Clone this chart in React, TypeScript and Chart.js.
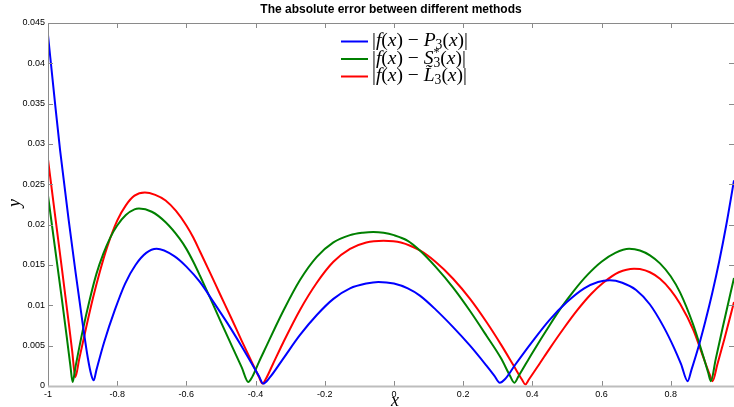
import React, { useEffect, useRef } from 'react';
import { Chart, registerables } from 'chart.js';

Chart.register(...registerables);

const titleText = 'The absolute error between different methods';
const xAxisLabel = 'x';
const yAxisLabel = 'y';

const xTickValues = [-1, -0.8, -0.6, -0.4, -0.2, 0, 0.2, 0.4, 0.6, 0.8];
const xTickLabels = ['-1', '-0.8', '-0.6', '-0.4', '-0.2', '0', '0.2', '0.4', '0.6', '0.8'];
const yTickValues = [0, 0.005, 0.01, 0.015, 0.02, 0.025, 0.03, 0.035, 0.04, 0.045];
const yTickLabels = ['0', '0.005', '0.01', '0.015', '0.02', '0.025', '0.03', '0.035', '0.04', '0.045'];

const seriesLabels = ['|f(x) − P₃(x)|', '|f(x) − S*₃(x)|', '|f(x) − L̃₃(x)|'];

// |f(x) - P3(x)|
const blueX = [-1.0, -0.98, -0.965, -0.94, -0.92, -0.90, -0.885, -0.875, -0.868, -0.86, -0.838, -0.807, -0.777, -0.747, -0.716, -0.686, -0.635, -0.60, -0.561, -0.52, -0.48, -0.44, -0.41, -0.39, -0.378, -0.36, -0.32, -0.272, -0.223, -0.175, -0.127, -0.08, -0.045, 0.0, 0.04, 0.075, 0.12, 0.171, 0.22, 0.268, 0.29, 0.306, 0.32, 0.35, 0.40, 0.45, 0.50, 0.55, 0.59, 0.624, 0.66, 0.70, 0.74, 0.78, 0.81, 0.83, 0.849, 0.86, 0.88, 0.90, 0.92, 0.94, 0.96, 0.983];
const blueY = [0.0435, 0.0352, 0.0292, 0.0205, 0.0140, 0.0078, 0.0035, 0.0014, 0.0007, 0.0020, 0.0054, 0.0094, 0.0127, 0.0150, 0.0165, 0.0170, 0.0161, 0.0148, 0.0129, 0.0103, 0.0077, 0.0049, 0.0027, 0.0012, 0.0003, 0.0010, 0.0034, 0.0063, 0.0088, 0.0108, 0.0121, 0.0127, 0.0129, 0.0127, 0.0121, 0.0112, 0.0095, 0.0073, 0.0050, 0.0025, 0.0013, 0.0004, 0.0008, 0.0026, 0.0055, 0.0082, 0.0104, 0.0121, 0.0129, 0.0131, 0.0128, 0.0119, 0.0101, 0.0073, 0.0047, 0.0027, 0.0006, 0.0020, 0.0048, 0.0080, 0.0115, 0.0154, 0.0198, 0.0255];

// |f(x) - S*3(x)|
const greenX = [-1.0, -0.98, -0.96, -0.945, -0.935, -0.929, -0.92, -0.90, -0.88, -0.86, -0.84, -0.82, -0.80, -0.775, -0.75, -0.737, -0.70, -0.66, -0.62, -0.60, -0.58, -0.561, -0.53, -0.503, -0.47, -0.44, -0.421, -0.41, -0.39, -0.368, -0.345, -0.32, -0.272, -0.223, -0.175, -0.127, -0.09, -0.06, -0.03, 0.0, 0.04, 0.075, 0.12, 0.171, 0.22, 0.268, 0.31, 0.335, 0.348, 0.36, 0.40, 0.451, 0.485, 0.52, 0.56, 0.60, 0.64, 0.68, 0.711, 0.74, 0.769, 0.80, 0.827, 0.865, 0.894, 0.908, 0.916, 0.93, 0.95, 0.983];
const greenY = [0.0236, 0.0172, 0.0108, 0.0058, 0.0024, 0.0005, 0.0025, 0.0068, 0.0106, 0.0139, 0.0164, 0.0184, 0.0199, 0.0212, 0.0219, 0.0220, 0.0216, 0.0203, 0.0183, 0.0170, 0.0154, 0.0137, 0.0108, 0.0082, 0.0051, 0.0023, 0.0005, 0.0011, 0.0030, 0.0050, 0.0071, 0.0093, 0.0131, 0.0160, 0.0178, 0.0187, 0.0190, 0.0191, 0.0190, 0.0187, 0.0180, 0.0168, 0.0148, 0.0122, 0.0093, 0.0062, 0.0034, 0.0013, 0.0004, 0.0012, 0.0041, 0.0076, 0.0098, 0.0118, 0.0138, 0.0154, 0.0165, 0.0170, 0.0168, 0.0162, 0.0152, 0.0136, 0.0116, 0.0076, 0.0037, 0.0017, 0.0006, 0.0033, 0.0072, 0.0134];

// |f(x) - L~3(x)|
const redX = [-1.0, -0.98, -0.96, -0.94, -0.93, -0.921, -0.91, -0.89, -0.87, -0.85, -0.83, -0.80, -0.775, -0.75, -0.72, -0.69, -0.66, -0.63, -0.60, -0.58, -0.561, -0.53, -0.503, -0.47, -0.44, -0.41, -0.39, -0.38, -0.37, -0.35, -0.32, -0.272, -0.223, -0.175, -0.127, -0.08, -0.03, 0.02, 0.075, 0.12, 0.171, 0.22, 0.268, 0.31, 0.345, 0.37, 0.38, 0.39, 0.42, 0.451, 0.49, 0.53, 0.57, 0.605, 0.65, 0.694, 0.711, 0.74, 0.769, 0.80, 0.827, 0.865, 0.894, 0.912, 0.921, 0.935, 0.955, 0.983];
const redY = [0.0281, 0.0213, 0.0146, 0.0078, 0.0043, 0.0011, 0.0033, 0.0072, 0.0109, 0.0142, 0.0171, 0.0205, 0.0224, 0.0236, 0.0240, 0.0237, 0.0230, 0.0217, 0.0199, 0.0184, 0.0167, 0.0139, 0.0114, 0.0084, 0.0056, 0.0029, 0.0011, 0.0003, 0.0009, 0.0027, 0.0054, 0.0094, 0.0128, 0.0154, 0.0170, 0.0178, 0.0180, 0.0178, 0.0168, 0.0154, 0.0133, 0.0108, 0.0079, 0.0051, 0.0026, 0.0008, 0.0002, 0.0008, 0.0027, 0.0047, 0.0071, 0.0094, 0.0114, 0.0128, 0.0141, 0.01455, 0.0145, 0.0141, 0.0133, 0.0119, 0.0102, 0.0070, 0.0036, 0.0015, 0.0006, 0.0027, 0.0058, 0.0104];

const toPoints = (xs: number[], ys: number[]) => xs.map((x, i) => ({ x, y: ys[i] }));

const SERIF = '"Liberation Serif", "DejaVu Serif", serif';
const SANS = '"Liberation Sans", Arial, sans-serif';
const SUBS = '₀₁₂₃₄₅₆₇₈₉';

function drawMath(ctx: CanvasRenderingContext2D, s: string, x0: number, y: number, size: number) {
  const chars = Array.from(s);
  let x = x0;
  ctx.textBaseline = 'middle';
  ctx.textAlign = 'left';
  ctx.fillStyle = '#000';
  let i = 0;
  while (i < chars.length) {
    let c = chars[i];
    if (chars[i + 1] === '\u0303') {
      c += '\u0303';
      i++;
    }
    const sub = SUBS.indexOf(c);
    if (c === '*') {
      ctx.font = `${size * 0.62}px ${SERIF}`;
      ctx.fillText('*', x, y - size * 0.3);
      const w1 = ctx.measureText('*').width;
      let w2 = 0;
      const nextSub = SUBS.indexOf(chars[i + 1] || '');
      if (nextSub >= 0) {
        ctx.font = `${size * 0.7}px ${SERIF}`;
        ctx.fillText(String(nextSub), x, y + size * 0.25);
        w2 = ctx.measureText(String(nextSub)).width;
        i++;
      }
      x += Math.max(w1, w2);
    } else if (sub >= 0) {
      ctx.font = `${size * 0.7}px ${SERIF}`;
      ctx.fillText(String(sub), x, y + size * 0.25);
      x += ctx.measureText(String(sub)).width;
    } else {
      const italic = /[A-Za-z]/.test(c[0]);
      ctx.font = `${italic ? 'italic ' : ''}${size}px ${SERIF}`;
      ctx.fillText(c, x, y);
      x += ctx.measureText(c).width;
    }
    i++;
  }
}

const decorPlugin = {
  id: 'decor',
  afterDatasetsDraw(chart: any) {
    const { ctx, chartArea: a, scales } = chart;
    ctx.save();
    const L = 5;
    ctx.strokeStyle = '#8a8a8a';
    ctx.lineWidth = 1;
    ctx.beginPath();
    for (const v of xTickValues) {
      const px = Math.round(scales.x.getPixelForValue(v)) + 0.5;
      ctx.moveTo(px, a.bottom);
      ctx.lineTo(px, a.bottom - L);
      ctx.moveTo(px, a.top);
      ctx.lineTo(px, a.top + L);
    }
    for (const v of yTickValues) {
      const py = Math.round(scales.y.getPixelForValue(v)) + 0.5;
      ctx.moveTo(a.left, py);
      ctx.lineTo(a.left + L, py);
      ctx.moveTo(a.right, py);
      ctx.lineTo(a.right - L, py);
    }
    ctx.stroke();
    ctx.beginPath();
    ctx.moveTo(a.left + 0.5, a.bottom);
    ctx.lineTo(a.left + 0.5, a.top + 0.5);
    ctx.lineTo(a.right, a.top + 0.5);
    ctx.stroke();
    ctx.strokeStyle = '#bdbdbd';
    ctx.lineWidth = 2;
    ctx.beginPath();
    ctx.moveTo(a.left, a.bottom + 0.5);
    ctx.lineTo(a.right, a.bottom + 0.5);
    ctx.stroke();
    ctx.restore();
  },
  afterDraw(chart: any) {
    const { ctx, chartArea: a } = chart;
    ctx.save();
    ctx.fillStyle = '#000';
    ctx.font = `bold 12px ${SANS}`;
    ctx.textAlign = 'center';
    ctx.textBaseline = 'middle';
    ctx.fillText(titleText, (a.left + a.right) / 2, 10);
    ctx.font = `italic 18px ${SERIF}`;
    ctx.fillText(xAxisLabel, (a.left + a.right) / 2 + 4, 401);
    ctx.save();
    ctx.translate(15, 203);
    ctx.rotate(-Math.PI / 2);
    ctx.fillText(yAxisLabel, 0, 0);
    ctx.restore();
    const rows = [41, 58.5, 76];
    chart.data.datasets.forEach((ds: any, i: number) => {
      const y = rows[i];
      ctx.strokeStyle = ds.borderColor;
      ctx.lineWidth = 2;
      ctx.beginPath();
      ctx.moveTo(341, y + 0.5);
      ctx.lineTo(368, y + 0.5);
      ctx.stroke();
      drawMath(ctx, ds.label, 372, y, 19.5);
    });
    ctx.restore();
  },
};

export default function App() {
  const ref = useRef<HTMLCanvasElement | null>(null);
  useEffect(() => {
    document.body.style.margin = '0';
    const canvas = ref.current;
    if (!canvas) return;
    const mk = (label: string, xs: number[], ys: number[], color: string) => ({
      label,
      data: toPoints(xs, ys),
      borderColor: color,
      backgroundColor: color,
      borderWidth: 2,
      pointRadius: 0,
      fill: false,
      cubicInterpolationMode: 'monotone' as const,
    });
    const chart = new Chart(canvas, {
      type: 'line',
      data: {
        datasets: [
          mk(seriesLabels[0], blueX, blueY, '#0000ff'),
          mk(seriesLabels[1], greenX, greenY, '#008000'),
          mk(seriesLabels[2], redX, redY, '#ff0000'),
        ],
      },
      options: {
        responsive: false,
        animation: false,
        devicePixelRatio: 1,
        layout: { padding: { top: 23, left: 0, right: 0, bottom: 0 } },
        plugins: {
          legend: { display: false },
          title: { display: false },
          tooltip: { enabled: false },
        },
        scales: {
          x: {
            type: 'linear',
            min: -1,
            max: 0.983,
            grid: { display: false, drawTicks: false },
            border: { display: false },
            afterBuildTicks: (s: any) => {
              s.ticks = xTickValues.map((v) => ({ value: v }));
            },
            afterFit: (s: any) => {
              s.height = 21;
            },
            ticks: {
              autoSkip: false,
              maxRotation: 0,
              padding: 3,
              color: '#000',
              font: { family: SANS, size: 9 },
              callback: (_v: any, i: number) => xTickLabels[i],
            },
          },
          y: {
            type: 'linear',
            min: 0,
            max: 0.045,
            grid: { display: false, drawTicks: false },
            border: { display: false },
            afterBuildTicks: (s: any) => {
              s.ticks = yTickValues.map((v) => ({ value: v }));
            },
            afterFit: (s: any) => {
              s.width = 48;
            },
            ticks: {
              autoSkip: false,
              padding: 3,
              color: '#000',
              font: { family: SANS, size: 9 },
              callback: (_v: any, i: number) => yTickLabels[i],
            },
          },
        },
      } as any,
      plugins: [decorPlugin],
    });
    return () => chart.destroy();
  }, []);
  return (
    <div style={{ width: 734, height: 407, background: '#fff' }}>
      <canvas ref={ref} width={734} height={407} />
    </div>
  );
}
